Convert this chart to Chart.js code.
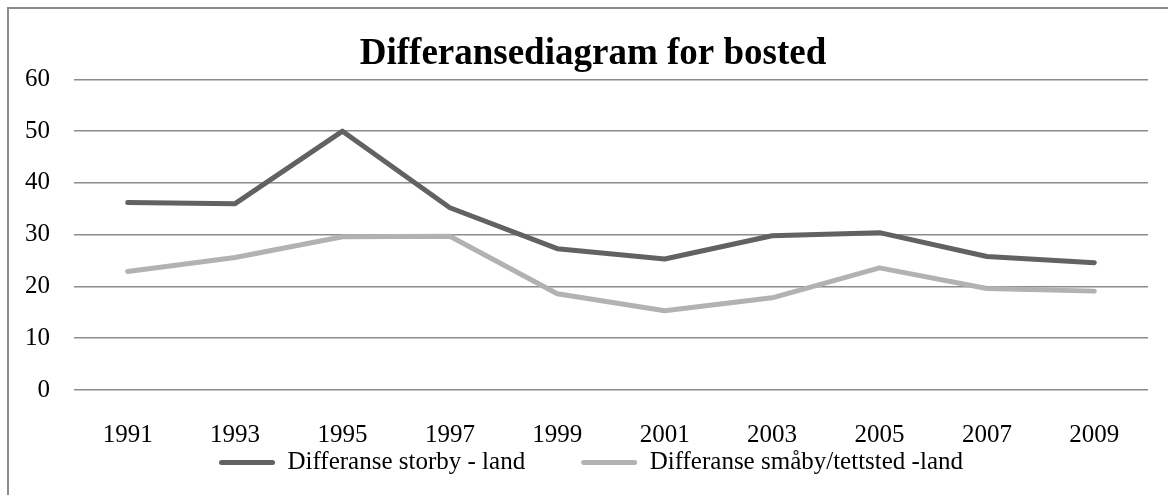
<!DOCTYPE html>
<html>
<head>
<meta charset="utf-8">
<script src="https://cdn.jsdelivr.net/npm/chart.js@4/dist/chart.umd.min.js"></script>
<style>
    body { margin: 0; background: #fff; }
    #wrap { position: relative; width: 1168px; height: 495px; overflow: hidden; }
    #frame { position: absolute; left: 7px; top: 7px; width: 1200px; height: 520px;
             border-left: 2px solid #8c8c8c; border-top: 2px solid #8c8c8c; }
    #diffChart { position: absolute; left: 0; top: 0; }
</style>
</head>
<body>
<div id="wrap">
    <div id="frame"></div>
    <canvas id="diffChart" width="1168" height="495"></canvas>
</div>
<script>
// Data lest av figuren
const years = ['1991', '1993', '1995', '1997', '1999', '2001', '2003', '2005', '2007', '2009'];
const storbyLand = [36.2, 36.0, 50.0, 35.2, 27.3, 25.3, 29.8, 30.4, 25.8, 24.6];
const smabyLand = [22.9, 25.6, 29.6, 29.7, 18.6, 15.3, 17.8, 23.6, 19.6, 19.1];
const seriesNames = ['Differanse storby - land', 'Differanse småby/tettsted -land'];
const yTicks = { min: 0, max: 60, step: 10 };

const serif = "'Liberation Serif', 'Times New Roman', serif";
const darkGrey = '#626262';
const lightGrey = '#b2b2b2';

// Flytter tittel og legende litt, slik at de står som i Excel-figuren
const blockPlacer = {
    id: 'blockPlacer',
    afterLayout(chart) {
        if (chart.titleBlock) {
            chart.titleBlock.left = 38;
        }
        if (chart.legend) {
            chart.legend.left = 163;
            chart.legend.top = 394;
        }
    }
};

const ctx = document.getElementById('diffChart').getContext('2d');
const chart = new Chart(ctx, {
    type: 'line',
    data: {
        labels: years,
        datasets: [{
            label: seriesNames[0],
            data: storbyLand,
            borderColor: darkGrey,
            backgroundColor: darkGrey,
            borderWidth: 5,
            borderCapStyle: 'round',
            borderJoinStyle: 'round',
            tension: 0,
            pointRadius: 0
        }, {
            label: seriesNames[1],
            data: smabyLand,
            borderColor: lightGrey,
            backgroundColor: lightGrey,
            borderWidth: 5,
            borderCapStyle: 'round',
            borderJoinStyle: 'round',
            tension: 0,
            pointRadius: 0
        }]
    },
    options: {
        responsive: false,
        animation: false,
        devicePixelRatio: 1,
        layout: { padding: { left: 0, right: 20, top: 0, bottom: 0 } },
        scales: {
            x: {
                offset: true,
                grid: { display: false, drawTicks: false },
                border: { display: false },
                ticks: { color: '#000', padding: 30, font: { family: serif, size: 25 }, maxRotation: 0, autoSkip: false },
                afterFit: (scale) => { scale.height = 85; }
            },
            y: {
                min: yTicks.min,
                max: yTicks.max,
                grid: { color: '#8c8c8c', lineWidth: 1.5, drawTicks: false },
                border: { display: false },
                ticks: { stepSize: yTicks.step, color: '#000', padding: 24, font: { family: serif, size: 25 } },
                afterFit: (scale) => { scale.width = 74; }
            }
        },
        plugins: {
            title: {
                display: true,
                text: 'Differansediagram for bosted',
                color: '#000',
                font: { family: serif, size: 37, weight: 'bold' },
                padding: { top: 32, bottom: 3 }
            },
            legend: {
                position: 'bottom',
                align: 'start',
                maxHeight: 20,
                labels: {
                    color: '#000',
                    font: { family: serif, size: 25 },
                    boxWidth: 56,
                    boxHeight: 5,
                    padding: 56,
                    useBorderRadius: true,
                    borderRadius: 2.5,
                    generateLabels: (c) => c.data.datasets.map((ds, i) => ({
                        text: ds.label,
                        fillStyle: ds.borderColor,
                        strokeStyle: ds.borderColor,
                        fontColor: '#000',
                        lineWidth: 0,
                        borderRadius: 2.5,
                        datasetIndex: i,
                        hidden: false
                    }))
                }
            },
            tooltip: { enabled: false }
        }
    },
    plugins: [blockPlacer]
});
</script>
</body>
</html>
